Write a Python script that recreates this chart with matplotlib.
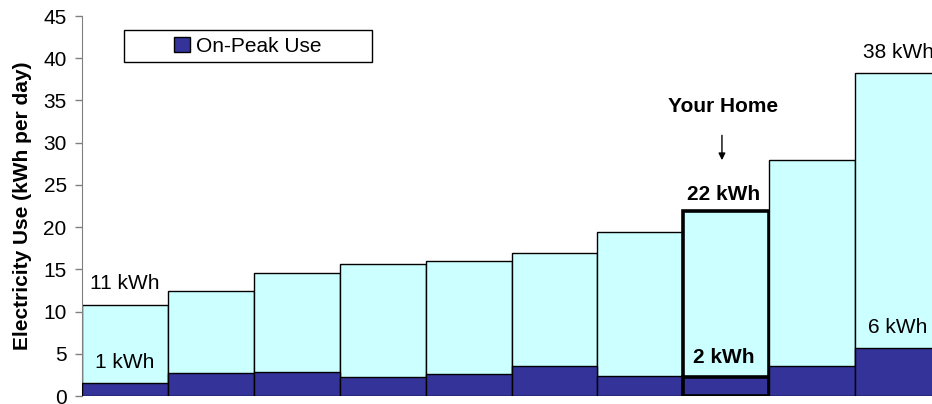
import matplotlib.pyplot as plt
from matplotlib.patches import Patch, Rectangle

plt.rcParams['font.family'] = ['Liberation Sans', 'DejaVu Sans']

# Data (kWh per day)
homes = list(range(10))
total_use = [10.8, 12.4, 14.6, 15.6, 16.0, 16.9, 19.4, 21.9, 27.9, 38.2]
on_peak_use = [1.5, 2.7, 2.8, 2.25, 2.6, 3.6, 2.4, 2.3, 3.55, 5.7]
your_home = 7
y_ticks = [0, 5, 10, 15, 20, 25, 30, 35, 40, 45]

light = '#CCFFFF'
dark = '#333399'
fs = 15

fig = plt.figure(figsize=(9.32, 4.04), dpi=100)
ax = fig.add_axes([82 / 932, 8 / 404, 859 / 932, 380 / 404])

lw = [2.6 if i == your_home else 1.0 for i in homes]
ax.bar(homes, total_use, width=1.0, color=light, edgecolor='black', linewidth=lw, zorder=2)
ax.bar(homes, on_peak_use, width=1.0, color=dark, edgecolor='black', linewidth=lw, zorder=3)

ax.set_xlim(-0.5, 9.5)
ax.set_ylim(0, 45)
ax.set_yticks(y_ticks)
ax.set_xticks([])
ax.tick_params(axis='y', labelsize=fs, length=5, color='#808080', width=1, pad=6)
for s in ['top', 'right', 'bottom']:
    ax.spines[s].set_visible(False)
ax.spines['left'].set_color('#808080')
ax.set_ylabel('Electricity Use (kWh per day)', fontsize=fs, fontweight='bold', labelpad=8)

ax.text(0, 12.7, '11 kWh', ha='center', va='baseline', fontsize=fs)
ax.text(0, 3.3, '1 kWh', ha='center', va='baseline', fontsize=fs)
ax.text(9, 40.0, '38 kWh', ha='center', va='baseline', fontsize=fs)
ax.text(9, 7.45, '6 kWh', ha='center', va='baseline', fontsize=fs)
ax.text(your_home - 0.04, 33.6, 'Your Home', ha='center', va='baseline', fontsize=fs, fontweight='bold')
ax.text(your_home - 0.03, 23.2, '22 kWh', ha='center', va='baseline', fontsize=fs, fontweight='bold')
ax.text(your_home - 0.03, 3.9, '2 kWh', ha='center', va='baseline', fontsize=fs, fontweight='bold')
ax.annotate('', xy=(your_home - 0.05, 27.6), xytext=(your_home - 0.05, 31.2),
            arrowprops=dict(arrowstyle='-|>', color='black', lw=1, mutation_scale=10))

# legend box
ax.add_patch(Rectangle((0.0489, 0.879), 0.2887, 0.084, transform=ax.transAxes,
                       facecolor='white', edgecolor='black', linewidth=1, zorder=4))
ax.legend(handles=[Patch(facecolor=dark, edgecolor='black', label='On-Peak Use')],
          loc='center', bbox_to_anchor=(0.193, 0.921), frameon=False, fontsize=fs,
          handlelength=0.75, handleheight=0.75, handletextpad=0.3, borderpad=0)

plt.savefig('out.png', dpi=100)
